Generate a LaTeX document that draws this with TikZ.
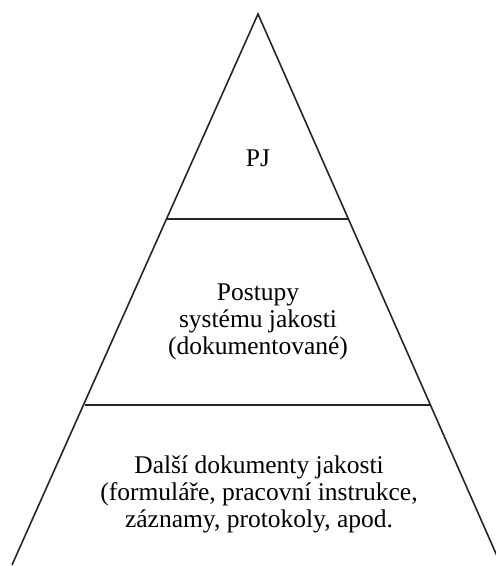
\documentclass[tikz,border=0pt]{standalone}
\usepackage{fontspec}
\setmainfont{Liberation Serif}
\begin{document}
\begin{tikzpicture}[x=1pt,y=-1pt,
  edge/.style={draw=black!85,line width=1.6pt},
  label/.style={align=center,font=\fontsize{25.5}{27}\selectfont,inner sep=0pt}]
\useasboundingbox (0,0) rectangle (496,566);
\clip (0,0) rectangle (496,566);
\coordinate (apex) at (258,14);
\coordinate (bl) at (12,565);
\coordinate (br) at (501,565);
\coordinate (l1) at (167,219);
\coordinate (r1) at (348,219);
\coordinate (l2) at (85,405);
\coordinate (r2) at (430,405);
\draw[edge] (bl) -- (apex) -- (br);
\draw[edge] (l1) -- (r1);
\draw[edge] (l2) -- (r2);
\node[label] (pj) at (258,158) {PJ};
\node[label] (post) at (258,322) {Postupy\\systému jakosti\\(dokumentované)};
\node[label] (dalsi) at (259,494) {Další dokumenty jakosti\\(formuláře, pracovní instrukce,\\záznamy, protokoly, apod.};
\end{tikzpicture}
\end{document}
